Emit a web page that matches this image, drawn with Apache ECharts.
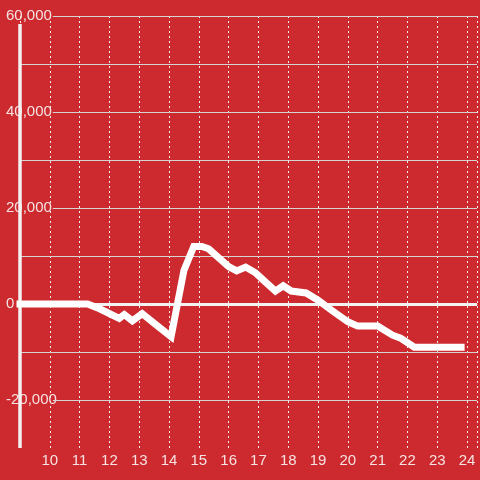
<!DOCTYPE html>
<html><head><meta charset="utf-8">
<script src="https://cdn.jsdelivr.net/npm/echarts@6/dist/echarts.min.js"></script>
<style>html,body{margin:0;padding:0;background:#cc2a2e}#c{width:480px;height:480px}</style>
</head><body><div id="c"></div>
<script>
// Data: x (hour), y value
const xValues = [9, 11.27, 11.67, 12.33, 12.5, 12.77, 13.1, 13.5, 14.07, 14.5, 14.83, 15.1, 15.33, 16.0, 16.27, 16.57, 16.9, 17.23, 17.57, 17.83, 18.1, 18.6, 19.0, 19.5, 20.0, 20.33, 21.0, 21.5, 21.77, 22.23, 23.8];
const yValues = [0, 0, -1000, -3000, -2200, -3500, -2000, -4000, -6800, 7000, 12000, 12000, 11500, 7800, 6900, 7700, 6500, 4600, 2700, 3800, 2700, 2300, 800, -1500, -3700, -4600, -4600, -6500, -7100, -9000, -9000];
// Axis ticks
const xTicks = [10, 11, 12, 13, 14, 15, 16, 17, 18, 19, 20, 21, 22, 23, 24];
const yLabelValues = [60000, 40000, 20000, 0, -20000];
const yGridValues = [-20000, -10000, 10000, 20000, 30000, 40000, 50000, 60000];

const X_MIN = 9, X_MAX = 24.3333, Y_MIN = -30000, Y_MAX = 60000;
const BG = '#cc2a2e';

const gridLines = yGridValues.map(v => {
  const startX = yLabelValues.indexOf(v) >= 0 ? 10.1 : X_MIN;
  return [{coord: [startX, v]}, {coord: [X_MAX, v]}];
});

const chart = echarts.init(document.getElementById('c'));
chart.setOption({
  backgroundColor: BG,
  animation: false,
  grid: {left: 20, right: 0, top: 16, bottom: 32, containLabel: false},
  xAxis: {
    type: 'value', min: X_MIN, max: X_MAX, interval: 1,
    axisLine: {show: true, lineStyle: {color: '#d8d8d8', width: 1}},
    axisTick: {show: false},
    splitLine: {show: true, lineStyle: {color: '#eeeeee', width: 1, type: [2, 3]}},
    axisLabel: {
      color: '#f6e2e2', fontSize: 15, fontFamily: 'Liberation Sans, Arial, sans-serif', margin: 5,
      formatter: v => (xTicks.indexOf(v) >= 0 ? String(v) : ''),
      showMinLabel: true, showMaxLabel: true
    }
  },
  yAxis: {
    type: 'value', min: Y_MIN, max: Y_MAX, interval: 10000,
    axisLine: {show: false}, axisTick: {show: false}, splitLine: {show: false},
    axisLabel: {
      color: '#f6e2e2', fontSize: 15, fontFamily: 'Liberation Sans, Arial, sans-serif',
      align: 'left', margin: 14,
      formatter: v => (yLabelValues.indexOf(v) >= 0 ? v.toLocaleString('en-US') : '')
    }
  },
  series: [
    {
      type: 'line', data: [], z: 1, silent: true,
      markLine: {
        silent: true, symbol: 'none', label: {show: false}, animation: false,
        lineStyle: {color: '#d4d4d4', width: 1, type: 'solid'},
        data: gridLines.concat([
          [{coord: [X_MIN, 0], lineStyle: {color: '#f2f2f2', width: 3, type: 'solid'}}, {coord: [X_MAX, 0]}],
          [{coord: [X_MIN, 58333], lineStyle: {color: '#f2f2f2', width: 3.5, type: 'solid'}}, {coord: [X_MIN, Y_MIN]}]
        ])
      }
    },
    {
      type: 'line', z: 5, symbol: 'none', smooth: false,
      data: xValues.map((x, i) => [x, yValues[i]]),
      lineStyle: {color: '#ffffff', width: 7, cap: 'square', join: 'miter'}
    }
  ]
});
</script></body></html>
